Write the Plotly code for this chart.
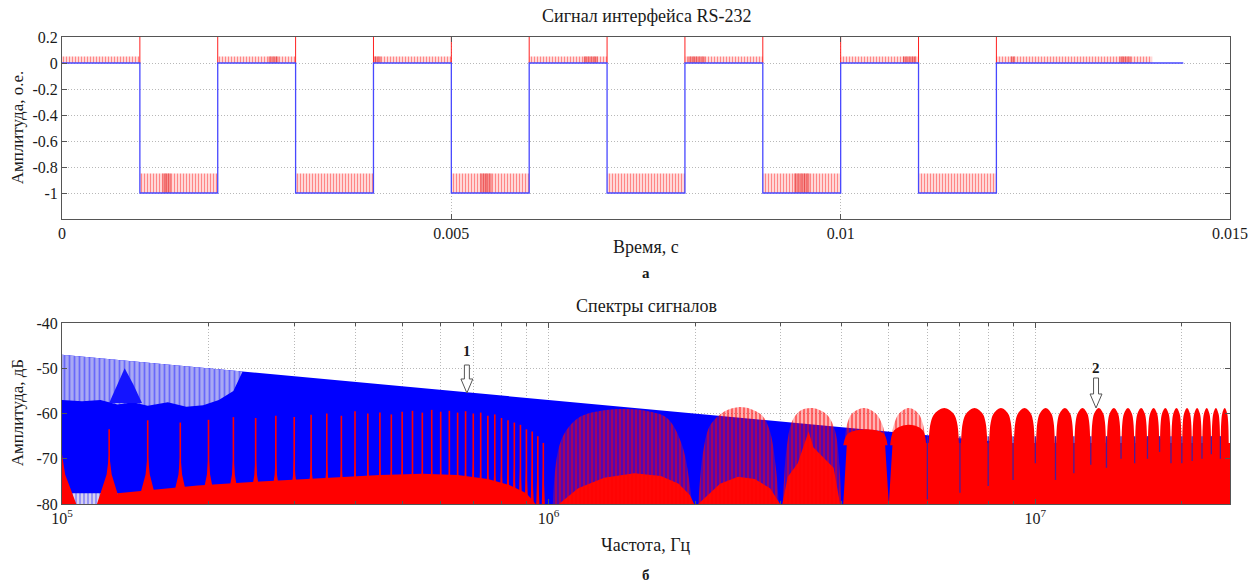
import plotly.graph_objects as go

# ---------------- canvas / layout helpers ----------------
W, H = 1260, 582
ML, MR, MT, MB = 62, 21, 37, 78
PW, PH = W - ML - MR, H - MT - MB


def pxx(x):
    return (x - ML) / PW


def pxy(y):
    return (H - MB - y) / PH


FONT = "Liberation Serif"
INK = "#1a1a1a"
AX = "#555555"
GRID = "#b8b8b8"

# ---------------- data: top panel (time domain) ----------------
t_edges = [0.0, 0.001, 0.002, 0.003, 0.004, 0.005, 0.006, 0.007, 0.008, 0.009, 0.010, 0.011, 0.012, 0.0144]
rs232_level = [0, -1, 0, -1, 0, -1, 0, -1, 0, -1, 0, -1, 0, 0]
high_t0 = [0.0, 0.002, 0.004, 0.006, 0.008, 0.010, 0.012]
high_t1 = [0.001, 0.003, 0.005, 0.007, 0.009, 0.011, 0.014]
low_t0 = [0.001, 0.003, 0.005, 0.007, 0.009, 0.011]
low_t1 = [0.002, 0.004, 0.006, 0.008, 0.010, 0.012]
comb_high = [0.0, 0.05]
comb_low = [-1.0, -0.85]
edge_t = [0.001, 0.002, 0.003, 0.004, 0.005, 0.006, 0.007, 0.008, 0.009, 0.010, 0.011, 0.012]
edge_spike = [0.0, 0.2]
dense_t0 = [0.00129, 0.00265, 0.0040, 0.00537, 0.0067, 0.00804, 0.0094, 0.0108, 0.01218, 0.01358]
dense_t1 = [0.00140, 0.00278, 0.0041, 0.00552, 0.00688, 0.00826, 0.0096, 0.01097, 0.01224, 0.01373]
dense_low = [True, False, False, True, False, False, True, False, False, False]
top_yticks = [-1, -0.8, -0.6, -0.4, -0.2, 0, 0.2]
top_ytext = ["-1", "-0.8", "-0.6", "-0.4", "-0.2", "0", "0.2"]
top_xticks = [0, 0.005, 0.01, 0.015]
top_xtext = ["0", "0.005", "0.01", "0.015"]

# ---------------- data: bottom panel (spectra) ----------------
env_f = [1e5, 1e6, 1e7, 2.5e7]
env_db = [-47.0, -57.0, -67.0, -71.0]
light_f = [1.0e5, 1.1e5, 1.2e5, 1.3e5, 1.4e5, 1.5e5, 1.65e5, 1.8e5, 1.95e5, 2.1e5, 2.25e5, 2.35e5, 1.0e5]
light_db = [-57.0, -57.3, -57.0, -58.0, -57.5, -58.3, -57.5, -58.5, -58.2, -57.0, -55.0, -50.7, -47.0]
hump_f = [1.25e5, 1.30e5, 1.345e5, 1.40e5, 1.46e5]
hump_db = [-57.7, -53.5, -50.0, -53.5, -57.7]
lfloor_f = [1.0e5, 1.3e5, 1.3e5, 1.0e5]
lfloor_db = [-80.0, -80.0, -77.6, -77.6]

base_f = [
    [1.3e5, 1.9e5, 2.5e5, 3.5e5, 4.5e5, 5.5e5, 6.5e5, 7.5e5, 8.3e5, 9.0e5, 9.4e5],
    [1.05e6, 1.15e6, 1.3e6, 1.5e6, 1.7e6, 1.85e6, 1.95e6, 1.99e6],
    [2.03e6, 2.1e6, 2.25e6, 2.45e6, 2.65e6, 2.85e6, 2.95e6, 2.99e6],
    [3.02e6, 3.1e6, 3.25e6, 3.35e6, 3.42e6, 3.5e6, 3.65e6, 3.85e6, 3.97e6],
]
base_db = [
    [-77.6, -75.9, -75.1, -74.3, -73.6, -73.3, -73.6, -74.5, -75.8, -77.6, -80.0],
    [-80.0, -76.5, -74.2, -73.2, -73.8, -75.5, -78.0, -80.0],
    [-80.0, -78.5, -75.5, -74.0, -74.5, -76.5, -79.0, -80.0],
    [-80.0, -74.0, -71.0, -67.0, -64.0, -67.5, -69.5, -72.0, -80.0],
]

spk_f = [100e3, 125e3, 150e3, 175e3, 200e3, 225e3, 250e3, 275e3, 300e3, 325e3, 350e3, 375e3,
         400e3, 425e3, 450e3, 475e3, 500e3, 525e3, 550e3, 575e3, 600e3, 625e3, 650e3, 675e3,
         700e3, 725e3, 750e3, 775e3, 800e3, 825e3, 850e3, 875e3, 900e3, 925e3, 950e3, 975e3]
spk_db = [-73.0, -63.5, -61.5, -62.0, -61.4, -60.8, -61.0, -60.5, -60.8, -60.3, -60.0, -60.5,
          -59.5, -60.0, -59.8, -60.2, -59.6, -59.4, -59.8, -59.2, -59.6, -59.4, -59.8, -59.5,
          -60.0, -59.8, -60.5, -60.2, -61.0, -61.5, -62.0, -62.5, -63.5, -64.0, -65.0, -66.5]

pat_f = [
    [1.02e6, 1.06e6, 1.15e6, 1.3e6, 1.45e6, 1.6e6, 1.75e6, 1.88e6, 1.97e6],
    [2.03e6, 2.08e6, 2.15e6, 2.3e6, 2.45e6, 2.6e6, 2.75e6, 2.85e6, 2.93e6, 2.97e6],
    [3.03e6, 3.08e6, 3.17e6, 3.3e6, 3.45e6, 3.6e6, 3.75e6, 3.88e6, 3.96e6, 3.99e6],
    [4.06e6, 4.1e6, 4.2e6, 4.45e6, 4.7e6, 4.85e6, 4.93e6],
    [5.06e6, 5.12e6, 5.25e6, 5.5e6, 5.75e6, 5.88e6, 5.94e6],
]
pat_db = [
    [-80.0, -66.0, -61.0, -59.3, -59.0, -59.5, -61.0, -67.0, -80.0],
    [-80.0, -68.0, -62.5, -59.5, -58.6, -59.0, -60.5, -64.0, -72.0, -80.0],
    [-80.0, -68.0, -61.5, -59.3, -58.8, -59.2, -60.5, -64.0, -72.0, -80.0],
    [-66.0, -62.5, -60.0, -58.8, -60.0, -62.5, -66.0],
    [-66.0, -62.5, -60.0, -58.8, -60.0, -62.5, -66.0],
]

dome_lo_mhz = [4, 5, 6, 7, 8, 9, 10, 11, 12, 13, 14, 15, 16, 17, 18, 19, 20, 21, 22, 23, 24]
dome_peak_db = [-63.5, -62.5, -58.8, -58.8, -58.8, -58.8, -58.8, -58.8, -58.8, -58.8, -58.8,
                -58.8, -58.8, -58.8, -58.8, -58.8, -58.8, -58.8, -58.8, -58.8, -58.8]
valley_db = -66.5
notch_mhz = [6, 7, 8, 9, 10, 11, 12, 13, 14, 15, 16, 17, 18, 19, 20, 21, 22, 23, 24]
notch_db = [-79.0, -77.5, -76.0, -74.7, -71.0, -74.7, -73.2, -71.3, -72.0, -70.0, -71.0,
            -70.0, -68.5, -71.0, -71.0, -70.5, -70.0, -69.0, -70.0]

bot_xticks = [1e5, 1e6, 1e7]
bot_xtext = ["10<sup>5</sup>", "10<sup>6</sup>", "10<sup>7</sup>"]
bot_minor = [2e5, 3e5, 4e5, 5e5, 6e5, 7e5, 8e5, 9e5, 2e6, 3e6, 4e6, 5e6, 6e6, 7e6, 8e6, 9e6, 2e7]
bot_yticks = [-80, -70, -60, -50, -40]
bot_ytext = ["-80", "-70", "-60", "-50", "-40"]


# ---------------- helpers ----------------
def join_polys(xs_list, ys_list):
    X, Y = [], []
    for xs, ys in zip(xs_list, ys_list):
        X += list(xs) + [None]
        Y += list(ys) + [None]
    return X, Y


def poly_trace(X, Y, xa, ya, color=None, pattern=None, shape="linear"):
    kw = dict(x=X, y=Y, mode="lines", fill="toself", xaxis=xa, yaxis=ya,
              line=dict(width=0, color="rgba(0,0,0,0)", shape=shape),
              hoverinfo="skip", showlegend=False)
    if pattern is not None:
        kw["fillpattern"] = pattern
        kw["fillcolor"] = pattern.get("bgcolor", "rgba(0,0,0,0)")
    else:
        kw["fillcolor"] = color
    return go.Scatter(**kw)


fig = go.Figure()

# ---------------- top panel ----------------
hx = [[a, b, b, a] for a, b in zip(high_t0, high_t1)]
hy = [[comb_high[0], comb_high[0], comb_high[1], comb_high[1]] for _ in high_t0]
lx = [[a, b, b, a] for a, b in zip(low_t0, low_t1)]
ly = [[comb_low[0], comb_low[0], comb_low[1], comb_low[1]] for _ in low_t0]
X, Y = join_polys(hx + lx, hy + ly)
fig.add_trace(poly_trace(X, Y, "x", "y", pattern=dict(
    shape="|", fgcolor="#ff1a1a", bgcolor="rgba(255,235,235,0.6)", size=3, solidity=0.5)))

dx, dy = [], []
for a, b, low in zip(dense_t0, dense_t1, dense_low):
    lv = comb_low if low else comb_high
    dx.append([a, b, b, a])
    dy.append([lv[0], lv[0], lv[1], lv[1]])
X, Y = join_polys(dx, dy)
fig.add_trace(poly_trace(X, Y, "x", "y", pattern=dict(
    shape="|", fgcolor="#d81818", bgcolor="rgba(255,140,140,0.5)", size=2.2, solidity=0.6)))

ex, ey = [], []
for t in edge_t:
    ex += [t, t, None]
    ey += [edge_spike[0], edge_spike[1], None]
fig.add_trace(go.Scatter(x=ex, y=ey, mode="lines", line=dict(color="#ff2020", width=1),
                         xaxis="x", yaxis="y", hoverinfo="skip", showlegend=False))

fig.add_trace(go.Scatter(x=t_edges, y=rs232_level, mode="lines",
                         line=dict(color="#4848ff", width=1.3, shape="hv"),
                         xaxis="x", yaxis="y", hoverinfo="skip", showlegend=False))

# ---------------- bottom panel ----------------
# blue spectrum body
bx = env_f + [env_f[-1], env_f[0]]
by = env_db + [-80, -80]
fig.add_trace(poly_trace(bx, by, "x2", "y2", color="#0000ff"))

# light comb region at low frequencies
fig.add_trace(poly_trace(light_f, light_db, "x2", "y2", pattern=dict(
    shape="|", fgcolor="#2a2aff", bgcolor="#a9a9f4", size=5, solidity=0.35)))
fig.add_trace(poly_trace(lfloor_f, lfloor_db, "x2", "y2", pattern=dict(
    shape="|", fgcolor="#3b3bff", bgcolor="#d6d0f0", size=4, solidity=0.4)))
fig.add_trace(poly_trace(hump_f, hump_db, "x2", "y2", color="#1414ff"))

# red base humps
xs_list = [bf + [bf[-1], bf[0]] for bf in base_f]
ys_list = [bd + [-80, -80] for bd in base_db]
X, Y = join_polys(xs_list, ys_list)
fig.add_trace(poly_trace(X, Y, "x2", "y2", color="#ff0000"))

# red harmonic spikes (first lobe)
tx, ty = [], []
for f in spk_f:
    tx.append([f - 7e3, f - 1.5e3, f, f + 1.5e3, f + 7e3])
    ty.append([-80, -73.5, -69, -73.5, -80])
X, Y = join_polys(tx, ty)
fig.add_trace(poly_trace(X, Y, "x2", "y2", color="#ff0000"))
sx, sy = [], []
for f, d in zip(spk_f, spk_db):
    sx += [f, f, None]
    sy += [-80, d, None]
fig.add_trace(go.Scatter(x=sx, y=sy, mode="lines", line=dict(color="#ff0000", width=1.6),
                         xaxis="x2", yaxis="y2", hoverinfo="skip", showlegend=False))

# semi-transparent lobes with dense red harmonics
X, Y = join_polys(pat_f, pat_db)
fig.add_trace(poly_trace(X, Y, "x2", "y2", shape="spline", pattern=dict(
    shape="|", fgcolor="#ff0000", bgcolor="rgba(255,20,20,0.32)", size=4, solidity=0.45)))

# solid red floor for high frequency lobes
floor_x = [4.03e6, 4.1e6, 4.91e6, 5.0e6, 5.09e6, 2.6e7, 2.6e7]
floor_y = [-80, valley_db, valley_db, -80, valley_db, valley_db, -80]
fig.add_trace(poly_trace(floor_x, floor_y, "x2", "y2", color="#ff0000"))

# solid red domes
dxs, dys = [], []
for n, pk in zip(dome_lo_mhz, dome_peak_db):
    span = pk - valley_db
    rel = [0.03, 0.10, 0.22, 0.5, 0.78, 0.90, 0.97]
    lev = [valley_db - 0.5, valley_db + 0.6 * span, pk - 0.15 * span, pk,
           pk - 0.15 * span, valley_db + 0.6 * span, valley_db - 0.5]
    dxs.append([(n + r) * 1e6 for r in rel])
    dys.append(lev)
X, Y = join_polys(dxs, dys)
fig.add_trace(poly_trace(X, Y, "x2", "y2", color="#ff0000", shape="spline"))

# dark notches between lobes
nx, ny = [], []
for n, d in zip(notch_mhz, notch_db):
    nx += [n * 1e6, n * 1e6, None]
    ny += [valley_db + 1.5, d, None]
fig.add_trace(go.Scatter(x=nx, y=ny, mode="lines", line=dict(color="#4a1d9a", width=1.3),
                         xaxis="x2", yaxis="y2", hoverinfo="skip", showlegend=False))

# ---------------- axes ----------------
tickfont = dict(family=FONT, size=16, color=INK)
common = dict(showline=True, linecolor=AX, linewidth=1, mirror="ticks", ticks="inside",
              ticklen=5, tickcolor=AX, showgrid=True, gridcolor=GRID, griddash="1px,2px",
              gridwidth=1, zeroline=False, tickfont=tickfont, fixedrange=True)

fig.update_layout(
    xaxis=dict(domain=[0, 1], anchor="y", range=[0, 0.015], tickmode="array",
               tickvals=top_xticks, ticktext=top_xtext, **common),
    yaxis=dict(domain=[pxy(219), 1], anchor="x", range=[-1.2, 0.2], tickmode="array",
               tickvals=top_yticks, ticktext=top_ytext, **common),
    xaxis2=dict(domain=[0, 1], anchor="y2", type="log", range=[5, 7.4], tickmode="array",
                tickvals=bot_xticks, ticktext=bot_xtext,
                minor=dict(tickmode="array", tickvals=bot_minor, ticks="inside", ticklen=3,
                           tickcolor=AX, showgrid=True, gridcolor=GRID, griddash="1px,2px"),
                **common),
    yaxis2=dict(domain=[0, pxy(323)], anchor="x2", range=[-80, -40], tickmode="array",
                tickvals=bot_yticks, ticktext=bot_ytext, **common),
)


def arrow_path(cx, top, head_y, tip, shaft_hw, head_hw):
    pts = [(cx - shaft_hw, top), (cx + shaft_hw, top), (cx + shaft_hw, head_y),
           (cx + head_hw, head_y), (cx, tip), (cx - head_hw, head_y), (cx - shaft_hw, head_y)]
    return "M " + " L ".join(f"{pxx(x):.5f},{pxy(y):.5f}" for x, y in pts) + " Z"


shapes = [
    dict(type="path", xref="paper", yref="paper", path=arrow_path(470, 365, 379, 393, 2.5, 6),
         fillcolor="white", line=dict(color="#555555", width=1), layer="above"),
    dict(type="path", xref="paper", yref="paper", path=arrow_path(1104, 378, 394, 408, 2.5, 6),
         fillcolor="white", line=dict(color="#555555", width=1), layer="above"),
]


def ann(text, x, y, size=15, bold=False, angle=0):
    return dict(text=f"<b>{text}</b>" if bold else text, x=pxx(x), y=pxy(y), xref="paper",
                yref="paper", showarrow=False, xanchor="center", yanchor="middle",
                textangle=angle, font=dict(family=FONT, size=size, color=INK))


annotations = [
    ann("Сигнал интерфейса RS-232", 651, 16, 18),
    ann("Время, с", 651, 247, 18),
    ann("а", 651, 273, 15, bold=True),
    ann("Спектры сигналов", 651, 306, 18),
    ann("Частота, Гц", 651, 545, 18),
    ann("б", 651, 575, 15, bold=True),
    ann("Амплитуда, о.е.", 17, 127, 17, angle=-90),
    ann("Амплитуда, дБ", 17, 413, 17, angle=-90),
    ann("1", 470, 351, 15, bold=True),
    ann("2", 1104, 368, 15, bold=True),
]

fig.update_layout(
    width=W, height=H, margin=dict(l=ML, r=MR, t=MT, b=MB, pad=0),
    paper_bgcolor="white", plot_bgcolor="white", showlegend=False,
    shapes=shapes, annotations=annotations, hovermode=False,
    font=dict(family=FONT, color=INK),
)

fig.write_html("out.html", config={"displayModeBar": False, "staticPlot": True},
               post_script="document.body.style.margin='0';")
